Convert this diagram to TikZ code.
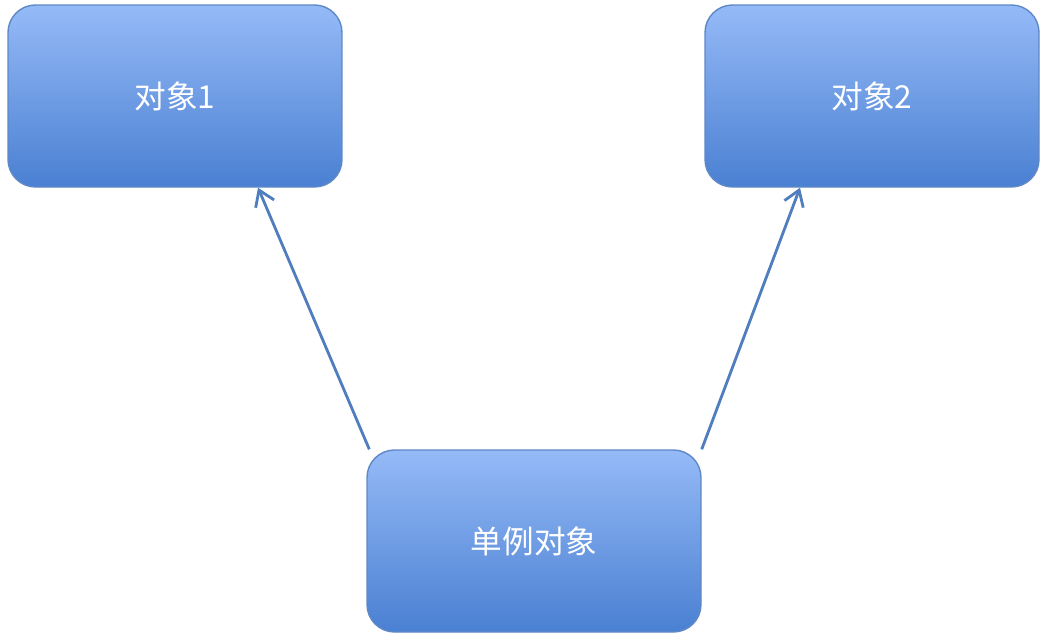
\documentclass[tikz,border=0pt]{standalone}
\usepackage{fontspec}
\setmainfont{Noto Sans CJK SC}
\usetikzlibrary{positioning,arrows.meta}
\definecolor{boxtop}{HTML}{95BAF7}
\definecolor{boxbot}{HTML}{4A80D2}
\definecolor{boxline}{HTML}{5F88C6}
\definecolor{arrowcol}{HTML}{4F7DBE}
\tikzset{
  objbox/.style={draw=boxline, line width=0.8pt, rounded corners=0.55cm,
    top color=boxtop, bottom color=boxbot, minimum width=6.68cm,
    minimum height=3.64cm, text=white, font=\fontsize{18}{20}\selectfont},
  link/.style={draw=arrowcol, line width=1.6pt, -{Straight Barb[length=3mm,width=4mm]}}
}
\begin{document}
\begin{tikzpicture}
\useasboundingbox (0,0) rectangle (20.94,12.86);
\node[objbox] (obj1) at (3.5,10.94) {对象1};
\node[objbox] (obj2) at (17.44,10.94) {对象2};
\node[objbox] (single) at (10.68,2.04) {单例对象};
% links from the singleton
\draw[link] ([xshift=0.06cm]single.north west) -- ([xshift=1.66cm]obj1.south);
\draw[link] (single.north east) -- ([xshift=-1.44cm]obj2.south);
\end{tikzpicture}
\end{document}
